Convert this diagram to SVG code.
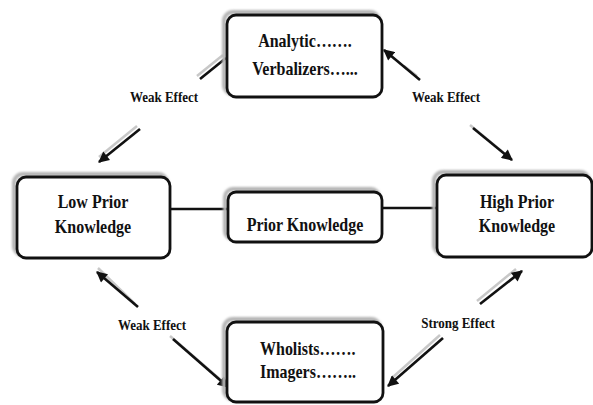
<svg xmlns="http://www.w3.org/2000/svg" width="593" height="405" viewBox="0 0 593 405">
  <defs>
    <filter id="soft" x="-10%" y="-10%" width="120%" height="120%">
      <feGaussianBlur stdDeviation="1.2"/>
    </filter>
    <marker id="head" viewBox="0 0 10 10" refX="9" refY="5" markerWidth="12" markerHeight="11" markerUnits="userSpaceOnUse" orient="auto-start-reverse">
      <path d="M0,0 L10,5 L0,10 z" fill="#111"/>
    </marker>
  </defs>
  <style>
    .shadow { fill: none; stroke: #b4b4b4; stroke-width: 4; filter: url(#soft); }
    .box { fill: #fff; stroke: #111; stroke-width: 2.8; }
    .link { fill: none; stroke: #111; stroke-width: 2.6; }
    .lshadow { fill: none; stroke: #c8c8c8; stroke-width: 2.5; }
    .node { font-family: "Liberation Serif", "Times New Roman", serif; font-weight: bold; font-size: 16px; fill: #111; }
    .lbl { font-family: "Liberation Serif", "Times New Roman", serif; font-weight: bold; font-size: 13px; fill: #111; text-anchor: middle; }
    .mid { text-anchor: middle; }
  </style>
  <rect width="593" height="405" fill="#fff"/>

  <g id="connectors">
    <!-- straight links to the centre box -->
    <line class="link" x1="170" y1="209" x2="228" y2="209"/>
    <line class="link" x1="382" y1="208" x2="437" y2="208"/>
    <!-- faint shadow strokes beside the diagonal arrows -->
    <line class="lshadow" x1="223" y1="55" x2="197" y2="76"/>
    <line class="lshadow" x1="137" y1="126" x2="99" y2="157"/>
    <line class="lshadow" x1="404" y1="66" x2="417" y2="76"/>
    <line class="lshadow" x1="470" y1="125" x2="505" y2="154"/>
    <line class="lshadow" x1="98" y1="268" x2="135" y2="304"/>
    <line class="lshadow" x1="170" y1="336" x2="222" y2="381"/>
    <line class="lshadow" x1="516" y1="269" x2="477" y2="301"/>
    <line class="lshadow" x1="440" y1="335" x2="392" y2="378"/>
    <!-- Analytic/Verbalizers to Low Prior Knowledge -->
    <line class="link" x1="226" y1="58" x2="200" y2="79"/>
    <line class="link" x1="140" y1="129" x2="99" y2="162" marker-end="url(#head)"/>
    <!-- Analytic/Verbalizers to High Prior Knowledge -->
    <line class="link" x1="420" y1="80" x2="384" y2="50" marker-end="url(#head)"/>
    <line class="link" x1="473" y1="128" x2="512" y2="160" marker-end="url(#head)"/>
    <!-- Wholists/Imagers to Low Prior Knowledge -->
    <line class="link" x1="138" y1="307" x2="97" y2="272" marker-end="url(#head)"/>
    <line class="link" x1="173" y1="339" x2="228" y2="387" marker-end="url(#head)"/>
    <!-- Wholists/Imagers to High Prior Knowledge -->
    <line class="link" x1="480" y1="304" x2="522" y2="271" marker-end="url(#head)"/>
    <line class="link" x1="443" y1="338" x2="388" y2="386" marker-end="url(#head)"/>
    <!-- effect labels -->
    <text class="lbl" transform="translate(164,102) scale(1,1.18)">Weak Effect</text>
    <text class="lbl" transform="translate(446,102) scale(1,1.18)">Weak Effect</text>
    <text class="lbl" transform="translate(152,330) scale(1,1.18)">Weak Effect</text>
    <text class="lbl" transform="translate(458,328) scale(1,1.18)">Strong Effect</text>
  </g>

  <g id="analytic-verbalizers">
    <rect class="shadow" x="224" y="12" width="155" height="82" rx="9"/>
    <rect class="box" x="227" y="15" width="155" height="82" rx="9"/>
    <text class="node mid" transform="translate(305,47) scale(1,1.2)">Analytic…….</text>
    <text class="node mid" transform="translate(305,75) scale(1,1.2)">Verbalizers…...</text>
  </g>

  <g id="low-prior-knowledge">
    <rect class="shadow" x="14" y="174" width="153" height="81" rx="9"/>
    <rect class="box" x="17" y="177" width="153" height="81" rx="9"/>
    <text class="node mid" transform="translate(93,208) scale(1,1.2)">Low Prior</text>
    <text class="node mid" transform="translate(93,233) scale(1,1.2)">Knowledge</text>
  </g>

  <g id="prior-knowledge">
    <rect class="shadow" x="225" y="189" width="154" height="50" rx="8"/>
    <rect class="box" x="228" y="192" width="154" height="50" rx="8"/>
    <text class="node mid" transform="translate(305,231) scale(1,1.2)">Prior Knowledge</text>
  </g>

  <g id="high-prior-knowledge">
    <rect class="shadow" x="434" y="172" width="155" height="82" rx="9"/>
    <rect class="box" x="437" y="175" width="155" height="82" rx="9"/>
    <text class="node mid" transform="translate(517,208) scale(1,1.2)">High Prior</text>
    <text class="node mid" transform="translate(517,232) scale(1,1.2)">Knowledge</text>
  </g>

  <g id="wholists-imagers">
    <rect class="shadow" x="224" y="319" width="156" height="80" rx="9"/>
    <rect class="box" x="227" y="322" width="156" height="80" rx="9"/>
    <text class="node" transform="translate(260,355) scale(1,1.2)">Wholists…….</text>
    <text class="node" transform="translate(260,378) scale(1,1.2)">Imagers……..</text>
  </g>
</svg>
